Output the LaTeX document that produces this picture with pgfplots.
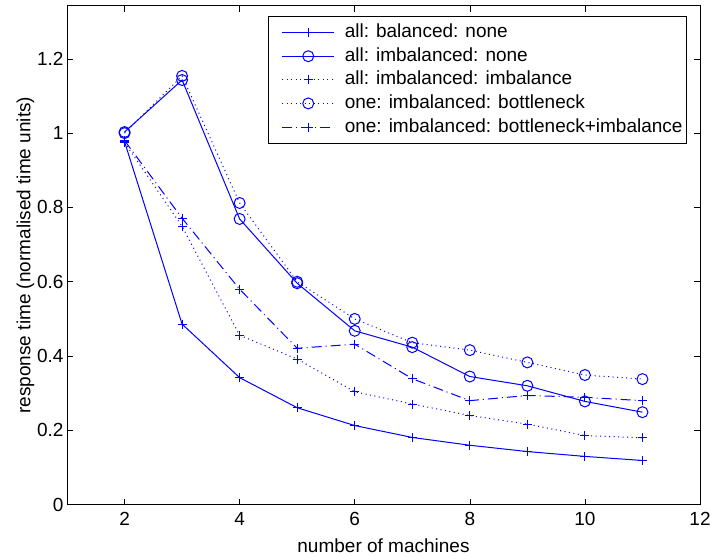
\documentclass[border=0pt]{standalone}
\usepackage{pgfplots}
\pgfplotsset{compat=1.18}
\usepackage{fontspec}
\setmainfont{Liberation Sans}

\begin{document}
\begin{tikzpicture}
\begin{axis}[
    scale only axis, width=633bp, height=499bp,
    xmin=1, xmax=12, ymin=0, ymax=1.343,
    xtick={2,4,6,8,10,12}, ytick={0,0.2,0.4,0.6,0.8,1,1.2},
    /pgf/number format/assume math mode=true,
    /pgf/number format/fixed,
    tick align=inside, major tick length=6bp,
    tick style={black, line width=0.6bp},
    axis line style={line width=0.9bp},
    font=\fontsize{19bp}{23bp}\selectfont,
    xticklabel style={yshift=-4bp},
    xlabel={number of machines}, ylabel={response time (normalised time units)},
    xlabel style={at={(axis description cs:0.5,0)}, anchor=base, yshift=-48bp},
    ylabel style={yshift=-4bp},
    legend cell align=left,
    legend style={at={(0.9795,0.979)}, anchor=north east, draw=black, line width=0.9bp,
        nodes={inner sep=0bp, text height=14bp, text depth=4bp},
        row sep=5.6bp, inner xsep=4bp, inner ysep=7bp,
        font=\fontsize{19bp}{23bp}\selectfont},
    legend image code/.code={%
        \path (0bp,0bp) (71bp,0bp);
        \draw[mark repeat=2,mark phase=2] plot coordinates {(9bp,0bp)(35bp,0bp)(61bp,0bp)};},
]
\addplot[blue, line width=1bp, mark=+, mark size=4.5bp, mark options={solid, draw=blue, line width=1bp}] coordinates {
    (2,0.977)(3,0.486)(4,0.342)(5,0.261)(6,0.213)(7,0.181)(8,0.160)(9,0.143)(10,0.130)(11,0.119)};
\addplot[blue, line width=1bp, mark=o, mark size=5.5bp, mark options={solid, draw=blue, line width=1bp}] coordinates {
    (2,1.003)(3,1.143)(4,0.769)(5,0.596)(6,0.468)(7,0.424)(8,0.345)(9,0.320)(10,0.278)(11,0.249)};
\addplot[blue, line width=1bp, dash pattern=on 1bp off 3.5bp, mark=+, mark size=4.5bp, mark options={solid, draw=blue, line width=1bp}] coordinates {
    (2,0.975)(3,0.749)(4,0.456)(5,0.392)(6,0.304)(7,0.271)(8,0.240)(9,0.217)(10,0.186)(11,0.180)};
\addplot[blue, line width=1bp, dash pattern=on 1bp off 3.5bp, mark=o, mark size=5.5bp, mark options={solid, draw=blue, line width=1bp}] coordinates {
    (2,1.0)(3,1.154)(4,0.812)(5,0.600)(6,0.500)(7,0.436)(8,0.416)(9,0.383)(10,0.349)(11,0.338)};
\addplot[blue, line width=1bp, dash pattern=on 10bp off 4bp on 1bp off 4bp, mark=+, mark size=4.5bp, mark options={solid, draw=blue, line width=1bp}] coordinates {
    (2,0.980)(3,0.771)(4,0.580)(5,0.421)(6,0.432)(7,0.339)(8,0.280)(9,0.294)(10,0.289)(11,0.280)};
\legend{all: balanced: none, all: imbalanced: none, all: imbalanced: imbalance,
    one: imbalanced: bottleneck, one: imbalanced: bottleneck+imbalance}
\end{axis}
\pgfresetboundingbox
\path[use as bounding box] ([shift={(-67bp,-52bp)}]current axis.south west)
    rectangle ([shift={(10bp,5.7bp)}]current axis.north east);
\end{tikzpicture}
\end{document}
